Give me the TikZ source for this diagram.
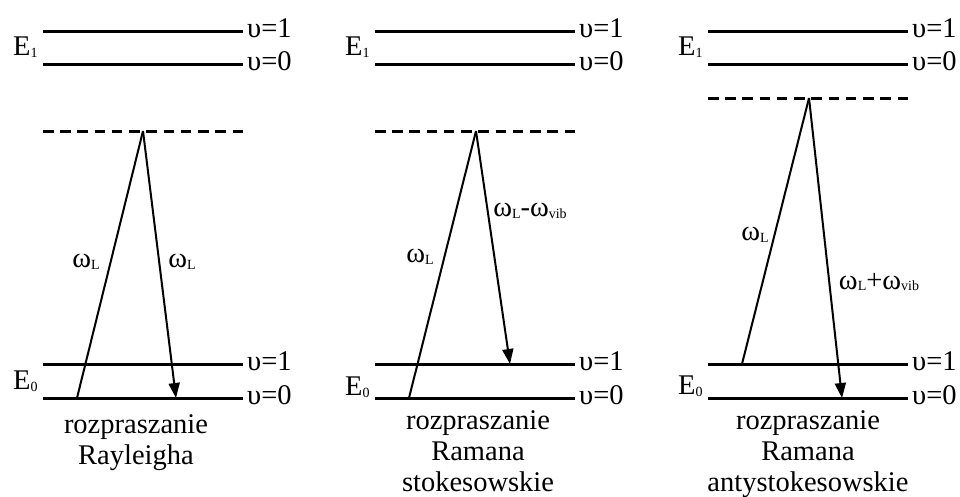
\documentclass[tikz,border=0pt]{standalone}
\usepackage{fontspec}
\setmainfont{Liberation Serif}
\usetikzlibrary{arrows.meta}
\newcommand\lsub[1]{\raisebox{-1.5pt}{\fontsize{14}{14}\selectfont #1}}
\begin{document}
\begin{tikzpicture}[x=1pt,y=-1pt,
  level/.style={line width=3pt},
  virt/.style={line width=3pt, dash pattern=on 10.5pt off 6.73pt},
  ray/.style={line width=2pt},
  emit/.style={line width=2pt, -{Triangle[length=15pt,width=11pt]}},
  lbl/.style={font=\fontsize{28.5}{31}\selectfont, inner sep=0pt},
  captxt/.style={font=\fontsize{28.5}{31}\selectfont, inner sep=0pt, align=center, anchor=north}]
\useasboundingbox (0,0) rectangle (960,496);

\foreach \ox/\vy/\nm in {0/131/p1, 332/131/p2, 665/98/p3}{
  \coordinate (\nm e1a) at (43+\ox,31);  \coordinate (\nm e1b) at (243+\ox,31);
  \coordinate (\nm e0a) at (43+\ox,64);  \coordinate (\nm e0b) at (243+\ox,64);
  \coordinate (\nm g1a) at (43+\ox,364); \coordinate (\nm g1b) at (243+\ox,364);
  \coordinate (\nm g0a) at (43+\ox,398); \coordinate (\nm g0b) at (243+\ox,398);
  \coordinate (\nm va) at (43+\ox,\vy);  \coordinate (\nm vb) at (243+\ox,\vy);
  \draw[level] (\nm e1a) -- (\nm e1b);
  \draw[level] (\nm e0a) -- (\nm e0b);
  \draw[level] (\nm g1a) -- (\nm g1b);
  \draw[level] (\nm g0a) -- (\nm g0b);
  \draw[virt] (\nm va) -- (\nm vb);
  \node[lbl, anchor=west] (\nm u1t) at (247+\ox,28) {υ=1};
  \node[lbl, anchor=west] (\nm u0t) at (247+\ox,61) {υ=0};
  \node[lbl, anchor=west] (\nm u1b) at (247+\ox,361) {υ=1};
  \node[lbl, anchor=west] (\nm u0b) at (247+\ox,395) {υ=0};
  \node[lbl, anchor=west] (\nm E1) at (13+\ox,47) {E\lsub{1}};
}
\node[lbl, anchor=west] (p1E0) at (13,381) {E\lsub{0}};
\node[lbl, anchor=west] (p2E0) at (345,387) {E\lsub{0}};
\node[lbl, anchor=west] (p3E0) at (678,386) {E\lsub{0}};

% transitions panel 1
\coordinate (p1s) at (77,398);
\coordinate (p1x) at (143,131);
\coordinate (p1t) at (176,398);
\draw[ray] (p1s) -- (p1x);
\draw[emit] (p1x) -- (p1t);
\node[lbl] (p1w1) at (86,262) {ω\lsub{L}};
\node[lbl] (p1w2) at (182,262) {ω\lsub{L}};
\node[captxt] (p1c) at (136,414) {rozpraszanie\\Rayleigha};

% transitions panel 2
\coordinate (p2s) at (409,398);
\coordinate (p2x) at (476,131);
\coordinate (p2t) at (510,364);
\draw[ray] (p2s) -- (p2x);
\draw[emit] (p2x) -- (p2t);
\node[lbl] (p2w1) at (420,257) {ω\lsub{L}};
\node[lbl] (p2w2) at (530,211) {ω\lsub{L}-ω\lsub{vib}};
\node[captxt] (p2c) at (478,410) {rozpraszanie\\Ramana\\stokesowskie};

% transitions panel 3
\coordinate (p3s) at (742,364);
\coordinate (p3x) at (809,98);
\coordinate (p3t) at (842,398);
\draw[ray] (p3s) -- (p3x);
\draw[emit] (p3x) -- (p3t);
\node[lbl] (p3w1) at (755,235) {ω\lsub{L}};
\node[lbl] (p3w2) at (879,282) {ω\lsub{L}+ω\lsub{vib}};
\node[captxt] (p3c) at (808,410) {rozpraszanie\\Ramana\\antystokesowskie};
\end{tikzpicture}
\end{document}
